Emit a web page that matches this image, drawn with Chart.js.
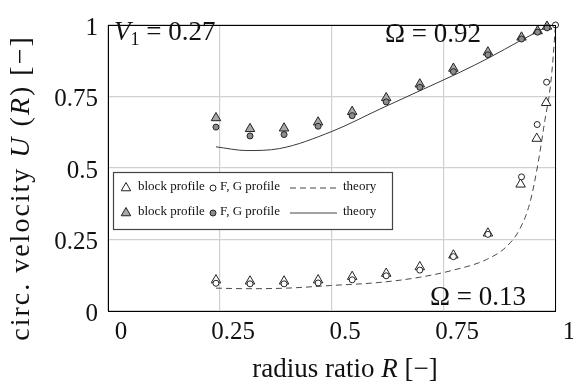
<!DOCTYPE html>
<html><head><meta charset="utf-8">
<script src="https://cdn.jsdelivr.net/npm/chart.js@4"></script>
<style>html,body{margin:0;padding:0;background:#fff}#wrap{width:573px;height:385px}</style>
</head><body><div id="wrap"><canvas id="c" width="573" height="385"></canvas></div>
<script>
// radius ratio R positions of the measurements
const rHigh = [0.241,0.317,0.393,0.469,0.545,0.621,0.696,0.771,0.848,0.923,0.959,0.980];
// Omega = 0.92 (filled markers)
const blockHigh = [0.675,0.637,0.639,0.660,0.697,0.745,0.793,0.848,0.905,0.957,0.979,0.995];
const fgHigh    = [0.643,0.612,0.617,0.646,0.683,0.731,0.782,0.837,0.896,0.951,0.975,0.990];
// Omega = 0.13 (open markers)
const rLowBlock = [0.241,0.317,0.393,0.469,0.545,0.621,0.696,0.771,0.848,0.921,0.957,0.978];
const blockLow  = [0.108,0.104,0.104,0.108,0.120,0.131,0.154,0.195,0.272,0.443,0.603,0.728];
const rLowFG    = [0.241,0.317,0.393,0.469,0.545,0.621,0.696,0.771,0.848,0.923,0.958,0.979,0.999];
const fgLow     = [0.097,0.095,0.095,0.098,0.109,0.123,0.143,0.190,0.268,0.469,0.652,0.800,1.000];
// theory curves
const theoryHighR = [0.241,0.31,0.383,0.5,0.607,0.696,0.786,0.85,0.92,0.987];
const theoryHighU = [0.574,0.561,0.568,0.628,0.706,0.770,0.835,0.885,0.945,1.000];
const theoryLowR  = [0.241,0.31,0.40,0.496,0.607,0.696,0.771,0.845,0.89,0.92,0.942,0.96,0.975,0.987,0.994,0.998];
const theoryLowU  = [0.080,0.078,0.080,0.089,0.100,0.118,0.143,0.180,0.226,0.289,0.380,0.517,0.665,0.780,0.894,0.985];
// axis ticks
const xTickValues = [0,0.25,0.5,0.75,1];
const xTickLabels = ['0','0.25','0.5','0.75','1'];
const yTickValues = [0,0.25,0.5,0.75,1];
const yTickLabels = ['0','0.25','0.5','0.75','1'];

const zip = (xs, ys) => xs.map((x,i)=>({x, y: ys[i]}));
const SERIF = '"Liberation Serif", "DejaVu Serif", serif';

function drawRich(ctx, parts, x, y, align, size, spacing) {
  size = size || 25;
  ctx.letterSpacing = (spacing || 0) + 'px';
  let total = 0;
  const widths = parts.map(p => {
    ctx.font = (p.italic?'italic ':'') + (p.size||size) + 'px ' + SERIF;
    const w = ctx.measureText(p.t).width; total += w; return w;
  });
  let cx = align === 'center' ? x - total/2 : x;
  ctx.textBaseline = 'alphabetic'; ctx.textAlign = 'left';
  parts.forEach((p,i) => {
    ctx.font = (p.italic?'italic ':'') + (p.size||size) + 'px ' + SERIF;
    ctx.fillText(p.t, cx, y + (p.dy||0));
    cx += widths[i];
  });
  ctx.letterSpacing = '0px';
}
function tri(ctx, x, y, r, fill) {
  ctx.beginPath();
  for (let k=0;k<3;k++){const a=k*2*Math.PI/3; const px=x+Math.sin(a)*r, py=y-Math.cos(a)*r; k?ctx.lineTo(px,py):ctx.moveTo(px,py);}
  ctx.closePath(); ctx.fillStyle=fill; ctx.fill(); ctx.strokeStyle='#222'; ctx.lineWidth=1; ctx.stroke();
}
function circ(ctx, x, y, r, fill) {
  ctx.beginPath(); ctx.arc(x,y,r,0,2*Math.PI); ctx.fillStyle=fill; ctx.fill(); ctx.strokeStyle='#222'; ctx.lineWidth=1; ctx.stroke();
}

const decor = {
  id: 'decor',
  afterDatasetsDraw(chart) {
    const ctx = chart.ctx, a = chart.chartArea;
    ctx.save();
    ctx.strokeStyle = '#000'; ctx.lineWidth = 1;
    ctx.strokeRect(a.left+0.5, a.top+0.5, a.right-a.left-1, a.bottom-a.top);
    ctx.fillStyle = '#111';
    drawRich(ctx, [{t:'V',italic:true},{t:'1',size:18,dy:5},{t:' = 0.27'}], 114, 40, 'left', 27);
    drawRich(ctx, [{t:'Ω = 0.92'}], 385, 42, 'left', 27);
    drawRich(ctx, [{t:'Ω = 0.13'}], 430, 305, 'left', 27);
    // legend
    ctx.fillStyle = '#fff'; ctx.fillRect(113,172,279,57);
    ctx.strokeStyle = '#444'; ctx.lineWidth = 1.2; ctx.strokeRect(113.5,172.5,279,57);
    const rows = [{y:187, tf:'#fff', cf:'#fff', dash:[6,4]}, {y:212, tf:'#a8a8a8', cf:'#8c8c8c', dash:[]}];
    rows.forEach(r => {
      tri(ctx, 126, r.y+1, 5.5, r.tf);
      circ(ctx, 213, r.y+1, 3, r.cf);
      ctx.fillStyle = '#111'; ctx.font = '13px ' + SERIF; ctx.textBaseline='middle'; ctx.textAlign='left';
      ctx.fillText('block profile', 138, r.y);
      ctx.fillText('F, G profile', 220, r.y);
      ctx.fillText('theory', 343, r.y);
      ctx.beginPath(); ctx.setLineDash(r.dash); ctx.strokeStyle='#444'; ctx.lineWidth=1;
      ctx.moveTo(290, r.y+1); ctx.lineTo(337, r.y+1); ctx.stroke(); ctx.setLineDash([]);
    });
    // axis titles
    ctx.fillStyle = '#111';
    drawRich(ctx, [{t:'radius ratio '},{t:'R',italic:true},{t:' [−]'}], 345, 377, 'center', 27);
    ctx.translate(29, 188); ctx.rotate(-Math.PI/2);
    drawRich(ctx, [{t:'circ. velocity '},{t:'U',italic:true},{t:' ('},{t:'R',italic:true},{t:') [−]'}], 0, 0, 'center', 28, 2);
    ctx.restore();
  }
};

const marker = (label, xs, ys, style, fill, order, r) => ({
  label, data: zip(xs, ys), showLine: false, pointStyle: style,
  pointRadius: r, pointHoverRadius: r, backgroundColor: fill, borderColor: '#222',
  pointBorderWidth: 1, borderWidth: 1, order, clip: false
});

new Chart(document.getElementById('c'), {
  type: 'scatter',
  data: { datasets: [
    { label: 'theory Ω=0.92', data: zip(theoryHighR, theoryHighU), showLine: true, pointRadius: 0,
      borderColor: '#3a3a3a', borderWidth: 1, cubicInterpolationMode: 'monotone', order: 5 },
    { label: 'theory Ω=0.13', data: zip(theoryLowR, theoryLowU), showLine: true, pointRadius: 0,
      borderColor: '#4a4a4a', borderWidth: 1, borderDash: [6,4], cubicInterpolationMode: 'monotone', order: 5, clip: false },
    marker('block profile Ω=0.92', rHigh, blockHigh, 'triangle', '#a8a8a8', 3, 5.5),
    marker('F, G profile Ω=0.92', rHigh, fgHigh, 'circle', '#8c8c8c', 1, 3),
    marker('block profile Ω=0.13', rLowBlock, blockLow, 'triangle', '#ffffff', 4, 5.5),
    marker('F, G profile Ω=0.13', rLowFG, fgLow, 'circle', '#ffffff', 2, 3)
  ]},
  options: {
    responsive: false, animation: false, devicePixelRatio: 1,
    layout: { padding: { top: 19, right: 17, left: 0, bottom: 0 } },
    plugins: { legend: { display: false }, tooltip: { enabled: false } },
    scales: {
      x: { type: 'linear', min: 0, max: 1,
        afterBuildTicks: s => { s.ticks = xTickValues.map(v => ({value: v})); },
        afterFit: s => { s.height = 74; },
        ticks: { color: '#111', font: { family: SERIF, size: 25 }, padding: 6, labelOffset: 13,
          maxRotation: 0, autoSkip: false, callback: (v) => xTickLabels[xTickValues.indexOf(v)] },
        grid: { color: '#d0d0d0', lineWidth: 1.2, drawTicks: false },
        border: { display: false }
      },
      y: { type: 'linear', min: 0, max: 1,
        afterBuildTicks: s => { s.ticks = yTickValues.map(v => ({value: v})); },
        afterFit: s => { s.width = 108; },
        ticks: { color: '#111', font: { family: SERIF, size: 25 }, padding: 10, labelOffset: 3,
          autoSkip: false, callback: (v) => yTickLabels[yTickValues.indexOf(v)] },
        grid: { color: '#d0d0d0', lineWidth: 1.2, drawTicks: false },
        border: { display: false }
      }
    }
  },
  plugins: [decor]
});
</script></body></html>
